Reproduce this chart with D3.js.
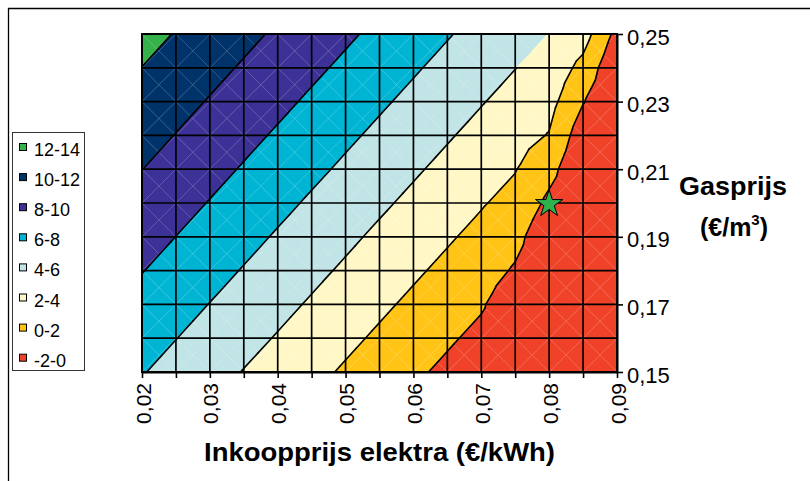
<!DOCTYPE html>
<html><head><meta charset="utf-8">
<script src="https://cdn.jsdelivr.net/npm/d3@7"></script>
<style>
body{margin:0;background:#fff;}
svg{display:block;font-family:Arial,"Liberation Sans",sans-serif;}
</style>
</head><body>
<svg id="chart" width="810" height="481"></svg>
<script>
// ---- data ----
const xValues = [0.02,0.025,0.03,0.035,0.04,0.045,0.05,0.055,0.06,0.065,0.07,0.075,0.08,0.085,0.09];
const yValues = [0.25,0.24,0.23,0.22,0.21,0.20,0.19,0.18,0.17,0.16,0.15];
// one row per gas price (top row = 0.25), one value per electricity price
const zRow025 = [12.63,11.91,11.19,10.46,9.74,9.02,8.30,7.58,6.85,6.13,5.41,4.69,3.97,2.86,-0.59];
const zRow024 = [11.98,11.26,10.53,9.81,9.09,8.37,7.65,6.92,6.20,5.48,4.76,4.03,3.31,1.41,-1.72];
const zRow023 = [11.32,10.60,9.88,9.16,8.44,7.71,6.99,6.27,5.55,4.83,4.10,3.38,2.66,0.10,-1.95];
const zRow022 = [10.67,9.95,9.23,8.50,7.78,7.06,6.34,5.62,4.90,4.17,3.45,2.73,1.90,-1.16,-1.90];
const zRow021 = [10.02,9.30,8.57,7.85,7.13,6.41,5.69,4.96,4.24,3.52,2.80,2.08,0.60,-1.60,-1.90];
const zRow020 = [9.37,8.64,7.92,7.20,6.48,5.75,5.03,4.31,3.59,2.87,2.14,1.42,-0.42,-1.70,-1.90];
const zRow019 = [8.71,7.99,7.27,6.55,5.82,5.10,4.38,3.65,2.94,2.21,1.49,0.60,-1.47,-1.90,-1.90];
const zRow018 = [8.06,7.34,6.62,5.89,5.17,4.45,3.73,3.01,2.28,1.56,0.84,-0.21,-1.50,-1.90,-1.90];
const zRow017 = [7.41,6.68,5.96,5.24,4.52,3.80,3.07,2.35,1.63,0.91,0.19,-1.24,-1.90,-1.90,-1.90];
const zRow016 = [6.75,6.03,5.31,4.59,3.87,3.14,2.42,1.70,0.98,0.25,-0.47,-1.19,-1.90,-1.90,-1.90];
const zRow015 = [6.10,5.38,4.66,3.93,3.21,2.49,1.77,1.05,0.32,-0.40,-1.12,-1.84,-1.90,-1.90,-1.90];
const zRows = [zRow025,zRow024,zRow023,zRow022,zRow021,zRow020,zRow019,zRow018,zRow017,zRow016,zRow015];

const bandLabels = ["12-14","10-12","8-10","6-8","4-6","2-4","0-2","-2-0"];
const bandLows   = [12,10,8,6,4,2,0,-2];
const bandColors = ["#36b24a","#00336a","#3c3196","#00b5d4","#c1e4e6","#fff8c6","#ffc416","#ef4228"];

const xTickValues = [0.02,0.03,0.04,0.05,0.06,0.07,0.08,0.09];
const xTickLabels = ["0,02","0,03","0,04","0,05","0,06","0,07","0,08","0,09"];
const yTickValues = [0.15,0.17,0.19,0.21,0.23,0.25];
const yTickLabels = ["0,15","0,17","0,19","0,21","0,23","0,25"];

const markerX = [0.08];
const markerY = [0.20];

// ---- chart ----
const svg = d3.select("#chart");
const x = d3.scaleLinear().domain([0.02,0.09]).range([142,617]);
const y = d3.scaleLinear().domain([0.15,0.25]).range([372,34]);

// outer frame
svg.append("path").attr("d","M8.5,481V8.5H810").attr("fill","none").attr("stroke","#000").attr("stroke-width",1.3);

const bandWidth = 2;
const levels = d3.range(-2, 14.001, 2);

function clipPoly(poly, level, keepAbove){
  const out=[]; const n=poly.length;
  for(let i=0;i<n;i++){
    const a=poly[i], b=poly[(i+1)%n];
    const ina = keepAbove ? a.z>=level : a.z<=level;
    const inb = keepAbove ? b.z>=level : b.z<=level;
    if(ina) out.push(a);
    if(ina!==inb){
      const t=(level-a.z)/(b.z-a.z);
      out.push({x:a.x+t*(b.x-a.x), y:a.y+t*(b.y-a.y), z:level});
    }
  }
  return out;
}

const triangles=[];
for(let r=0;r<yValues.length-1;r++){
  for(let c=0;c<xValues.length-1;c++){
    const tl={x:xValues[c],y:yValues[r],z:zRows[r][c]};
    const tr={x:xValues[c+1],y:yValues[r],z:zRows[r][c+1]};
    const br={x:xValues[c+1],y:yValues[r+1],z:zRows[r+1][c+1]};
    const bl={x:xValues[c],y:yValues[r+1],z:zRows[r+1][c]};
    const ce={x:(tl.x+tr.x)/2,y:(tl.y+bl.y)/2,z:(tl.z+tr.z+br.z+bl.z)/4};
    triangles.push([tl,tr,ce],[tr,br,ce],[br,bl,ce],[bl,tl,ce]);
  }
}

const gFill = svg.append("g");
const line = d3.line().x(d=>x(d.x)).y(d=>y(d.y));
triangles.forEach(tri=>{
  bandLows.forEach((lo,i)=>{
    let p = clipPoly(tri, lo, true);
    if(p.length<3) return;
    p = clipPoly(p, lo+bandWidth, false);
    if(p.length<3) return;
    gFill.append("path").attr("d", line(p)+"Z")
      .attr("fill", bandColors[i]).attr("stroke", bandColors[i]).attr("stroke-width",0.6);
  });
});

// faint triangle seams (cell diagonals)
const gDiag = svg.append("g").attr("stroke","rgba(255,255,255,0.22)").attr("stroke-width",0.7);
for(let r=0;r<yValues.length-1;r++){
  for(let c=0;c<xValues.length-1;c++){
    gDiag.append("line").attr("x1",x(xValues[c])).attr("y1",y(yValues[r])).attr("x2",x(xValues[c+1])).attr("y2",y(yValues[r+1]));
    gDiag.append("line").attr("x1",x(xValues[c+1])).attr("y1",y(yValues[r])).attr("x2",x(xValues[c])).attr("y2",y(yValues[r+1]));
  }
}

// contour lines
const gCont = svg.append("g").attr("stroke","#000").attr("stroke-width",1.6).attr("fill","none").attr("stroke-linecap","round");
triangles.forEach(tri=>{
  levels.forEach(L=>{
    const pts=[];
    for(let i=0;i<3;i++){
      const a=tri[i], b=tri[(i+1)%3];
      if((a.z-L)*(b.z-L)<0){
        const t=(L-a.z)/(b.z-a.z);
        pts.push({x:a.x+t*(b.x-a.x), y:a.y+t*(b.y-a.y)});
      }
    }
    if(pts.length===2) gCont.append("path").attr("d", line(pts));
  });
});

// grid lines
const gGrid = svg.append("g").attr("stroke","#000").attr("stroke-width",1.7);
xValues.forEach(v=>gGrid.append("line").attr("x1",x(v)).attr("x2",x(v)).attr("y1",y(0.25)).attr("y2",y(0.15)));
yValues.forEach(v=>gGrid.append("line").attr("y1",y(v)).attr("y2",y(v)).attr("x1",x(0.02)).attr("x2",x(0.09)));

// plot border
svg.append("rect").attr("x",x(0.02)).attr("y",y(0.25)).attr("width",x(0.09)-x(0.02)).attr("height",y(0.15)-y(0.25))
  .attr("fill","none").attr("stroke","#000").attr("stroke-width",2);

// x axis
const xAxis = svg.append("g").attr("transform",`translate(0,${y(0.15)})`)
  .call(d3.axisBottom(x).tickValues(xValues).tickSize(6).tickSizeOuter(0)
    .tickFormat(d=>{const i=xTickValues.findIndex(v=>Math.abs(v-d)<1e-9); return i>=0?xTickLabels[i]:"";}));
xAxis.select(".domain").attr("stroke","#000").attr("stroke-width",2);
xAxis.selectAll(".tick line").attr("stroke","#000").attr("stroke-width",1.6);
xAxis.selectAll(".tick text").attr("fill","#000").attr("font-size",21)
  .attr("font-family","Arial, 'Liberation Sans', sans-serif")
  .attr("transform","rotate(-90)").attr("text-anchor","end")
  .attr("x",-11).attr("y",8).attr("dy",0);

// y axis (right)
const yAxis = svg.append("g").attr("transform",`translate(${x(0.09)},0)`)
  .call(d3.axisRight(y).tickValues(yTickValues).tickSize(6).tickSizeOuter(0)
    .tickFormat((d,i)=>yTickLabels[i]));
yAxis.select(".domain").attr("stroke","#000").attr("stroke-width",2);
yAxis.selectAll(".tick line").attr("stroke","#000").attr("stroke-width",1.6);
yAxis.selectAll(".tick text").attr("fill","#000").attr("font-size",22)
  .attr("font-family","Arial, 'Liberation Sans', sans-serif")
  .attr("x",10).attr("y",10).attr("dy",0);

// marker star
svg.selectAll(".marker").data(markerX).enter().append("path")
  .attr("d", d3.symbol(d3.symbolStar, 230)())
  .attr("transform",(d,i)=>`translate(${x(d)},${y(markerY[i])+1})`)
  .attr("fill","#2fb24c").attr("stroke","#000").attr("stroke-width",1);

// axis titles
svg.append("text").attr("x",379.5).attr("y",461).attr("text-anchor","middle")
  .attr("font-size",25).attr("font-weight","bold").attr("textLength",351).attr("lengthAdjust","spacingAndGlyphs")
  .text("Inkoopprijs elektra (€/kWh)");
svg.append("text").attr("x",733).attr("y",195).attr("text-anchor","middle")
  .attr("font-size",25).attr("font-weight","bold").attr("textLength",108).attr("lengthAdjust","spacingAndGlyphs")
  .text("Gasprijs");
const t2 = svg.append("text").attr("x",734).attr("y",236).attr("text-anchor","middle")
  .attr("font-size",25).attr("font-weight","bold");
t2.append("tspan").text("(€/m");
t2.append("tspan").attr("font-size",15).attr("dy",-11).text("3");
t2.append("tspan").attr("dy",11).text(")");

// legend
const lg = svg.append("g");
lg.append("rect").attr("x",12.5).attr("y",132.5).attr("width",72).attr("height",238)
  .attr("fill","#fff").attr("stroke","#333").attr("stroke-width",1);
bandLabels.forEach((lab,i)=>{
  const by = 156 + i*30.1;
  lg.append("rect").attr("x",19.5).attr("y",by-12.5).attr("width",7).attr("height",7)
    .attr("fill",bandColors[i]).attr("stroke","#000").attr("stroke-width",1);
  lg.append("text").attr("x",34).attr("y",by).attr("font-size",18).attr("fill","#000").text(lab);
});
</script>
</body></html>
